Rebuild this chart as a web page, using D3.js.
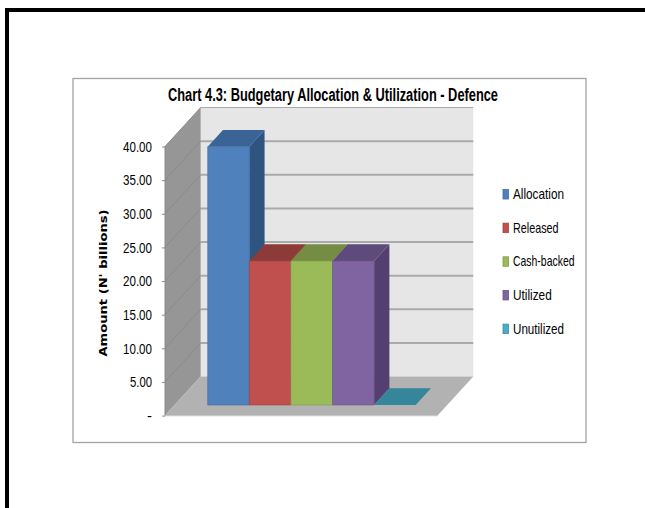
<!DOCTYPE html>
<html><head><meta charset="utf-8">
<script src="https://cdnjs.cloudflare.com/ajax/libs/d3/7.8.5/d3.min.js"></script>
<style>html,body{margin:0;padding:0;background:#fff}svg{display:block}</style>
</head><body><svg id="c" width="645" height="508"></svg>
<script>
const series = ["Allocation","Released","Cash-backed","Utilized","Unutilized"];
const values = [38.4,21.4,21.4,21.4,0];
const faceColors = ["#4f81bd","#c0504d","#9bbb59","#8064a2","#31859c"];
const topColors = ["#3a6396","#8c3b39","#748c43","#5f4b7b","#35869a"];
const sideColors = ["#2f5480","#8c3b39","#748c43","#534070","#2a7286"];
const tickValues = [0,5,10,15,20,25,30,35,40];
const titleText = "Chart 4.3: Budgetary Allocation & Utilization - Defence";
const yTitle = "Amount (N' billions)";
const legendWidths = [51,45.5,61.5,38.7,51];

const svg = d3.select("#c");
const y = d3.scaleLinear().domain([0,40]).range([415.6,146.5]);
const x = d3.scaleBand().domain(series).range([207.7,415.7]);
const DX = 35.7, DY = -39;
const pz = (px, v, z) => [px + DX*z, y(v) + DY*z];
const line = pts => "M" + pts.map(p=>p.join(",")).join("L") + "Z";
const fx0 = 165, fx1 = 437.6;
const barZ0 = 0.272, barZ1 = 0.70;
const narrow = "'Liberation Sans Narrow','Liberation Sans',sans-serif";

svg.append("rect").attr("x",5).attr("y",8).attr("width",640).attr("height",4).attr("fill","#000");
svg.append("rect").attr("x",5).attr("y",8).attr("width",4).attr("height",500).attr("fill","#000");
svg.append("rect").attr("x",73).attr("y",78.5).attr("width",513).attr("height",364)
  .attr("fill","#fff").attr("stroke","#a3a3a3").attr("stroke-width",1.3);

svg.append("path").attr("d",line([pz(fx0,0,1),pz(fx1,0,1),pz(fx1,40,1),pz(fx0,40,1)])).attr("fill","#e6e6e6");
svg.append("path").attr("d",line([pz(fx0,0,0),pz(fx0,0,1),pz(fx0,40,1),pz(fx0,40,0)])).attr("fill","#969696");
svg.append("path").attr("d",line([pz(fx0,0,0),pz(fx1,0,0),pz(fx1,0,1),pz(fx0,0,1)])).attr("fill","#b2b2b2");
svg.append("path").attr("d",`M${pz(fx0,0,0)}L${pz(fx1,0,0)}`).attr("stroke","#c8c8c8").attr("stroke-width",1.2);

tickValues.forEach(v=>{
  if(v>0){
    svg.append("path").attr("d",`M${pz(fx0,v,1)}L${pz(fx1,v,1)}`).attr("stroke","#aaaaaa").attr("stroke-width",v===40?1:2);
    svg.append("path").attr("d",`M${pz(fx0,v,0)}L${pz(fx0,v,1)}`).attr("stroke","#8a8a8a").attr("stroke-width",1);
  }
});

svg.append("path").attr("d",`M165,${y(0)}V${y(40)}`).attr("stroke","#8a8a8a").attr("stroke-width",1);
const fmt = v => v===0 ? "-" : d3.format(".2f")(v);
const axis = d3.axisLeft(y).tickValues(tickValues).tickSize(3).tickPadding(10).tickFormat(fmt);
const gAxis = svg.append("g").attr("transform","translate(165,0)").call(axis);
gAxis.select(".domain").remove();
gAxis.selectAll("line").attr("stroke","#8a8a8a");
gAxis.selectAll("text")
  .attr("font-family",narrow).attr("font-size",15).attr("fill","#000")
  .attr("lengthAdjust","spacingAndGlyphs")
  .each(function(v){ if(v>=10) d3.select(this).attr("textLength",29); else if(v>0) d3.select(this).attr("textLength",22); });

svg.append("text").attr("transform","translate(107,283) rotate(-90)").attr("text-anchor","middle")
  .attr("font-family","'DejaVu Sans',sans-serif").attr("font-weight","bold").attr("font-size",11)
  .attr("textLength",147).attr("lengthAdjust","spacingAndGlyphs").text(yTitle);

svg.append("text").attr("x",168).attr("y",101)
  .attr("font-family",narrow).attr("font-weight","bold").attr("font-size",18)
  .attr("textLength",330).attr("lengthAdjust","spacingAndGlyphs").text(titleText);

series.forEach((s,i)=>{
  const v = values[i], x0 = x(s) - barZ0*DX, x1 = x0 + x.bandwidth();
  const a = px => pz(px,v,barZ0), b = px => pz(px,v,barZ1);
  const g = svg.append("g");
  if(v>0){
    g.append("path").attr("d",line([a(x1),b(x1),pz(x1,0,barZ1),pz(x1,0,barZ0)])).attr("fill",sideColors[i]);
  }
  g.append("path").attr("d",line([a(x0),a(x1),b(x1),b(x0)])).attr("fill",topColors[i]);
  if(v>0){
    g.append("path").attr("d",line([pz(x0,0,barZ0),pz(x1,0,barZ0),a(x1),a(x0)]))
      .attr("fill",faceColors[i]).attr("stroke",d3.color(faceColors[i]).darker(0.5)).attr("stroke-width",0.6);
  }
});

const ly = d3.scalePoint().domain(series).range([194,328.6]);
series.forEach((s,i)=>{
  const c = i===4 ? "#4bacc6" : faceColors[i];
  svg.append("rect").attr("x",503).attr("y",ly(s)-4.5).attr("width",5.5).attr("height",9.5)
    .attr("fill",c).attr("stroke",d3.color(c).darker(0.5)).attr("stroke-width",0.8);
  svg.append("text").attr("x",513).attr("y",ly(s)+5)
    .attr("font-family",narrow).attr("font-size",15).attr("fill","#000")
    .attr("textLength",legendWidths[i]).attr("lengthAdjust","spacingAndGlyphs").text(s);
});
</script></body></html>
